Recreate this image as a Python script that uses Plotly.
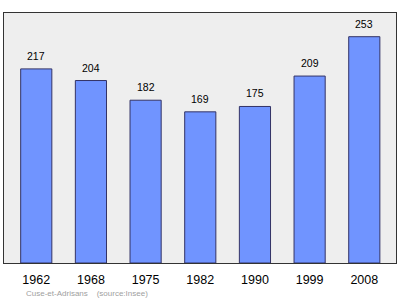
import plotly.graph_objects as go

years = ["1962", "1968", "1975", "1982", "1990", "1999", "2008"]
population = [217, 204, 182, 169, 175, 209, 253]
source_text = "Cuse-et-Adrisans&nbsp;&nbsp;&nbsp;&nbsp;(source:Insee)"

FONT = "Liberation Sans"

fig = go.Figure()
fig.add_trace(go.Bar(
    x=years, y=population, width=0.57,
    marker=dict(color="#7094ff", line=dict(color="#333366", width=1)),
    hoverinfo="skip",
))
for i, v in enumerate(population):
    fig.add_annotation(x=i, y=v, text=str(v), showarrow=False,
                       yanchor="bottom", yshift=5,
                       font=dict(family=FONT, size=10.5, color="#000"))
fig.add_annotation(xref="paper", yref="paper", x=0.051, y=-0.12,
                   xanchor="left", yanchor="middle", showarrow=False,
                   text=source_text,
                   font=dict(family=FONT, size=8, color="#a0a0a0"))

fig.update_layout(
    width=400, height=299,
    margin=dict(l=4, r=4, t=13, b=36),
    paper_bgcolor="white", plot_bgcolor="#eeeeee",
    showlegend=False,
    xaxis=dict(type="category", range=[-0.59, 6.58], showgrid=False, showline=True, mirror=True,
               linecolor="#333333", linewidth=1, ticks="", zeroline=False,
               ticklabelstandoff=5,
               tickfont=dict(family=FONT, size=12.5, color="#000")),
    yaxis=dict(range=[0, 279.5], showgrid=False, showline=True, mirror=True,
               linecolor="#333333", linewidth=1, showticklabels=False,
               ticks="", zeroline=False),
)
fig.write_html("out.html")
